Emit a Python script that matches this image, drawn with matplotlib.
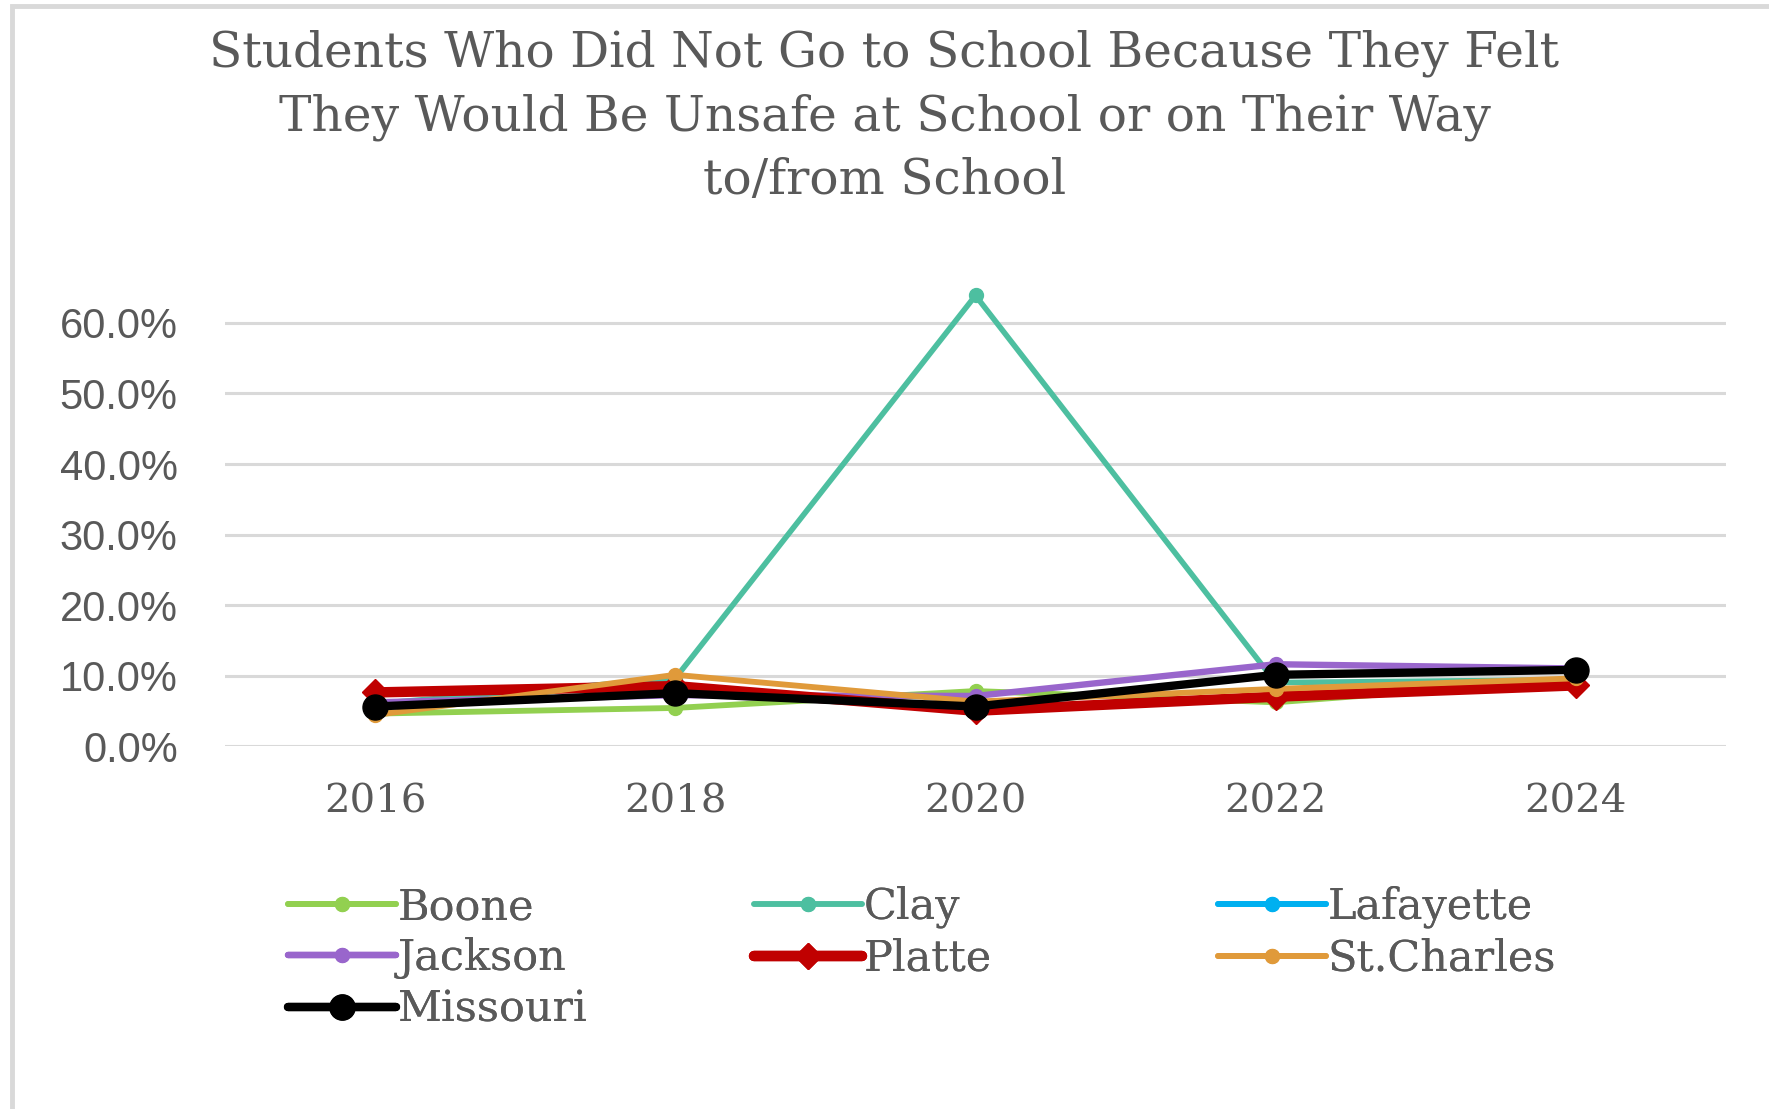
import numpy as np
import matplotlib
matplotlib.use("Agg")
import matplotlib.pyplot as plt
from matplotlib.patches import Rectangle
from matplotlib.ticker import PercentFormatter

years = ["2016", "2018", "2020", "2022", "2024"]

boone = [4.6, 5.4, 7.8, 6.2, 9.4]
clay = [6.0, 9.6, 63.9, 9.0, 9.4]
lafayette = [np.nan, np.nan, np.nan, np.nan, np.nan]
jackson = [6.2, 7.2, 7.1, 11.6, 11.0]
platte = [7.6, 8.5, 5.0, 7.0, 8.6]
st_charles = [4.4, 10.1, 6.3, 8.1, 9.6]
missouri = [5.6, 7.5, 5.6, 10.1, 10.8]

TEXT = "#595959"
SERIF = ["DejaVu Serif", "DejaVu Sans"]
plt.rcParams["font.family"] = SERIF

fig = plt.figure(figsize=(17.69, 11.09), dpi=100)
ax = fig.add_axes([225 / 1769, 0.3273, (1726 - 225) / 1769, 0.4196])

x = np.arange(len(years))
styles = [
    ("Boone", boone, "#92D050", 4.2, "o", 10),
    ("Clay", clay, "#4DBFA0", 4.0, "o", 10),
    ("Lafayette", lafayette, "#00B0F0", 4.2, "o", 10),
    ("Jackson", jackson, "#9966CC", 4.6, "o", 10),
    ("Platte", platte, "#C00000", 7.5, "D", 13),
    ("St.Charles", st_charles, "#E09A3A", 4.2, "o", 10),
    ("Missouri", missouri, "#000000", 6.0, "o", 18),
]

handles = {}
for name, vals, color, lw, mk, ms in styles:
    (ln,) = ax.plot(x, np.array(vals, dtype=float) / 100, color=color, lw=lw,
                    marker=mk, ms=ms, label=name, clip_on=False,
                    solid_joinstyle="round", solid_capstyle="round")
    handles[name] = ln

ax.set_xlim(-0.5, 4.5)
ax.set_ylim(0, 0.66)
ax.set_yticks(np.arange(0, 0.61, 0.1))
ax.yaxis.set_major_formatter(PercentFormatter(1.0, decimals=1))
ax.set_xticks(x)
ax.set_xticklabels(years, fontsize=29, family=SERIF)
for lab in ax.get_yticklabels():
    lab.set_family(["Liberation Sans", "DejaVu Sans"])
    lab.set_fontsize(30)
ax.grid(axis="y", color="#D9D9D9", lw=2.2)
ax.set_axisbelow(True)
for s in ax.spines.values():
    s.set_visible(False)
ax.tick_params(length=0, colors=TEXT)
ax.tick_params(axis="x", pad=27)
ax.tick_params(axis="y", pad=34)

fig.text(0.5, 0.973,
         "Students Who Did Not Go to School Because They Felt\n"
         "They Would Be Unsafe at School or on Their Way\n"
         "to/from School",
         ha="center", va="top", fontsize=35, color=TEXT, linespacing=1.43)

# Excel-style legend: three fixed-width columns, filled row by row
columns = [["Boone", "Jackson", "Missouri"], ["Clay", "Platte"], ["Lafayette", "St.Charles"]]
col_x = [288, 754, 1218]
for names, cx in zip(columns, col_x):
    leg = fig.legend([handles[n] for n in names], names, loc="upper left",
                     bbox_to_anchor=(cx / 1769, 1 - 886 / 1109), frameon=False,
                     fontsize=31, handlelength=2.5, handletextpad=0.05,
                     labelspacing=0.22, borderpad=0, borderaxespad=0,
                     labelcolor=TEXT)
    fig.add_artist(leg)

fig.patches.append(Rectangle((12 / 1769, -0.1), 1.2, 1 - 6 / 1109 + 0.1,
                             transform=fig.transFigure, fill=False,
                             edgecolor="#D9D9D9", lw=3.5))

fig.savefig("out.png", dpi=100, facecolor="white")
